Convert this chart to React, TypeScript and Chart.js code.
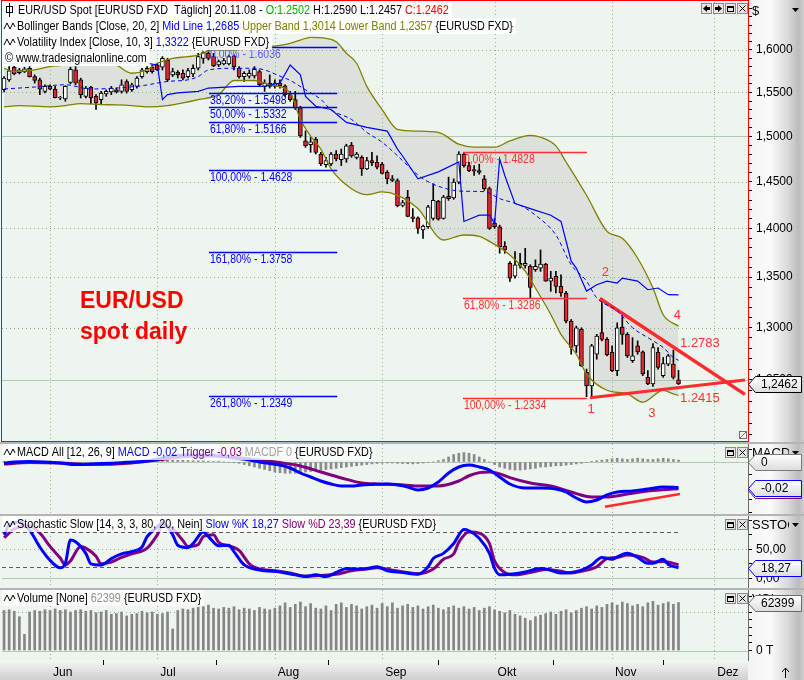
import React, { useEffect, useRef } from 'react';
import { Chart, registerables } from 'chart.js';

Chart.register(...registerables);

const FONT = '"Liberation Sans", Arial, Helvetica, sans-serif';
const AXIS_W = 56;
const X_MIN = -0.4;
const X_MAX = 145.6;
const PLOT_BG = '#eef4ee';
const GRID_DOT = '#9aa69a';
const GRID_SOLID = '#b2c8b2';
const RED = '#ff2a2a';
const CANDLE_RED = '#e3262b';
const BLUE = '#0000ff';
const PURPLE = '#800080';
const OLIVE = '#808000';
const TEXT_SX = 0.9;

// ---------- categories / ticks ----------
const monthTicks = [9, 30, 53, 74, 96, 119, 139];
const monthLabels = ['Jun', 'Jul', 'Aug', 'Sep', 'Okt', 'Nov', 'Dez'];
const priceMajorTicks = [1.25, 1.3, 1.35, 1.4, 1.45, 1.5, 1.55, 1.6];
const PRICE_MIN = 1.1951;
const PRICE_MAX = 1.6585;

// ---------- price series (daily OHLC, index = trading day) ----------
const opens = [
  1.5531, 1.5647, 1.5795, 1.5732, 1.5743, 1.5783, 1.5685, 1.5647, 1.5512, 1.557,
  1.5539, 1.5436, 1.5425, 1.5616, 1.5763, 1.5647, 1.5455, 1.5562, 1.5455, 1.5417,
  1.5482, 1.5505, 1.5531, 1.5512, 1.5627, 1.5531, 1.557, 1.5685, 1.5743, 1.5795,
  1.5822, 1.5795, 1.5881, 1.5705, 1.5736, 1.5724, 1.5685, 1.5716, 1.5783, 1.5901,
  1.596, 1.5921, 1.5822, 1.5834, 1.5834, 1.5929, 1.5783, 1.5685, 1.569, 1.5693,
  1.5743, 1.557, 1.5608, 1.557, 1.5608, 1.5578, 1.5474, 1.5417, 1.5322, 1.495,
  1.4905, 1.4968, 1.4802, 1.4685, 1.4692, 1.4802, 1.474, 1.4747, 1.4901, 1.4765,
  1.4765, 1.4638, 1.4729, 1.4711, 1.4692, 1.4602, 1.453, 1.4512, 1.4245, 1.433,
  1.4123, 1.4112, 1.3984, 1.4018, 1.4105, 1.4288, 1.4105, 1.4341, 1.4323, 1.4494,
  1.4802, 1.4674, 1.4631, 1.462, 1.453, 1.4423, 1.4053, 1.4018, 1.3818, 1.3641,
  1.351, 1.3641, 1.3618, 1.3608, 1.3574, 1.3591, 1.3631, 1.346, 1.3507, 1.3407,
  1.334, 1.3063, 1.2823, 1.2982, 1.2571, 1.2444, 1.2743, 1.295, 1.2886, 1.276,
  1.2587, 1.3005, 1.2934, 1.2681, 1.2823, 1.2766, 1.2525, 1.2463, 1.276, 1.2541,
  1.2649, 1.2649, 1.2502,
];
const highs = [
  1.5686, 1.5802, 1.5822, 1.5783, 1.5795, 1.5802, 1.5705, 1.5667, 1.5589, 1.5589,
  1.557, 1.5455, 1.5578, 1.5795, 1.5802, 1.5667, 1.557, 1.557, 1.5474, 1.5512,
  1.5531, 1.557, 1.5551, 1.5647, 1.5647, 1.5608, 1.5686, 1.5783, 1.5802, 1.5822,
  1.5842, 1.5921, 1.5901, 1.5783, 1.5755, 1.5763, 1.5783, 1.5822, 1.596, 1.598,
  1.6036, 1.596, 1.5881, 1.5901, 1.594, 1.594, 1.5802, 1.5743, 1.5763, 1.5802,
  1.5763, 1.5647, 1.5705, 1.5647, 1.5647, 1.5589, 1.5512, 1.5512, 1.5341, 1.506,
  1.4987, 1.4987, 1.4821, 1.4765, 1.4821, 1.4839, 1.4857, 1.4911, 1.4931, 1.4821,
  1.4783, 1.4765, 1.4821, 1.4783, 1.4711, 1.462, 1.4566, 1.453, 1.4298, 1.4405,
  1.421, 1.4123, 1.4035, 1.4245, 1.4476, 1.4298, 1.4351, 1.4548, 1.453, 1.4828,
  1.482, 1.4711, 1.4674, 1.469, 1.4566, 1.4441, 1.4105, 1.4035, 1.3863, 1.3658,
  1.376, 1.3743, 1.3794, 1.3625, 1.3675, 1.3777, 1.3641, 1.3558, 1.3558, 1.3524,
  1.3357, 1.3079, 1.3014, 1.2998, 1.2602, 1.2838, 1.2934, 1.3286, 1.2902, 1.2823,
  1.3046, 1.3127, 1.295, 1.2902, 1.2871, 1.2775, 1.2587, 1.2845, 1.2807, 1.2712,
  1.2743, 1.2783, 1.259,
];
const lows = [
  1.5505, 1.5627, 1.5705, 1.5716, 1.5732, 1.568, 1.5608, 1.5474, 1.5493, 1.5531,
  1.5436, 1.5417, 1.5398, 1.56, 1.5589, 1.5436, 1.5436, 1.5371, 1.5303, 1.536,
  1.5455, 1.5474, 1.5493, 1.5493, 1.5493, 1.5512, 1.5551, 1.5667, 1.5724, 1.5724,
  1.5755, 1.5763, 1.5627, 1.5685, 1.5667, 1.5647, 1.5667, 1.5685, 1.5763, 1.5842,
  1.5881, 1.5802, 1.5802, 1.5822, 1.5822, 1.5763, 1.5667, 1.5627, 1.5667, 1.5667,
  1.5578, 1.5512, 1.5551, 1.5551, 1.5551, 1.5455, 1.5398, 1.5303, 1.4987, 1.4876,
  1.4821, 1.4802, 1.4674, 1.4656, 1.4674, 1.4725, 1.4674, 1.4711, 1.4765, 1.4747,
  1.4566, 1.4631, 1.4674, 1.4638, 1.4584, 1.4476, 1.4498, 1.4228, 1.4228, 1.4123,
  1.407, 1.3949, 1.3897, 1.4001, 1.4088, 1.4088, 1.4098, 1.4298, 1.4309, 1.4476,
  1.4656, 1.4609, 1.4566, 1.458, 1.4405, 1.399, 1.4001, 1.3743, 1.3743, 1.3457,
  1.349, 1.3591, 1.3591, 1.3291, 1.3558, 1.3558, 1.3457, 1.3357, 1.334, 1.3307,
  1.3046, 1.2743, 1.276, 1.2625, 1.2345, 1.2334, 1.2696, 1.2871, 1.2728, 1.2578,
  1.2541, 1.2838, 1.2712, 1.2665, 1.2743, 1.2541, 1.2455, 1.244, 1.2602, 1.2525,
  1.2634, 1.2509, 1.2457,
];
const closes = [
  1.5667, 1.5752, 1.5716, 1.5763, 1.5775, 1.5685, 1.5639, 1.5539, 1.557, 1.5539,
  1.544, 1.5442, 1.557, 1.5771, 1.5608, 1.5474, 1.5551, 1.5436, 1.5379, 1.5493,
  1.5512, 1.5551, 1.5505, 1.5589, 1.5512, 1.5589, 1.5667, 1.5763, 1.5783, 1.5743,
  1.5763, 1.5901, 1.5647, 1.5743, 1.5705, 1.5667, 1.5755, 1.5783, 1.5921, 1.5968,
  1.5901, 1.5811, 1.5862, 1.5873, 1.5921, 1.5802, 1.5685, 1.5724, 1.5724, 1.5771,
  1.5589, 1.5608, 1.557, 1.5608, 1.5578, 1.5474, 1.5417, 1.5322, 1.5004, 1.4894,
  1.4938, 1.4821, 1.4692, 1.4729, 1.4802, 1.4747, 1.4802, 1.4894, 1.4783, 1.4802,
  1.4638, 1.4729, 1.4703, 1.4656, 1.459, 1.453, 1.4512, 1.4242, 1.4273, 1.4126,
  1.4105, 1.4001, 1.4025, 1.4228, 1.4298, 1.4098, 1.4334, 1.4316, 1.4494, 1.4802,
  1.4674, 1.462, 1.4614, 1.46, 1.4423, 1.4001, 1.4018, 1.3811, 1.3777, 1.349,
  1.3624, 1.3618, 1.3641, 1.3397, 1.3608, 1.3631, 1.346, 1.349, 1.3407, 1.334,
  1.3063, 1.2807, 1.2998, 1.2634, 1.2444, 1.2823, 1.2918, 1.2886, 1.2738, 1.2587,
  1.2998, 1.2934, 1.2728, 1.2728, 1.2766, 1.2556, 1.2463, 1.2807, 1.2618, 1.2655,
  1.2728, 1.2525, 1.2462,
];

// ---------- indicator lines, [trading-day index, value] ----------
const bbUpper = [
  [0, 1.5783], [2, 1.5745], [6, 1.5763], [9, 1.5802], [12, 1.5822], [14, 1.5861], [19, 1.5861],
  [21, 1.5854], [25, 1.5724], [28, 1.5763], [30, 1.5842], [33, 1.5901], [36, 1.592], [38, 1.594],
  [41, 1.6], [45, 1.6], [49, 1.602], [52, 1.604], [56, 1.608], [58, 1.612], [60, 1.6153],
  [63, 1.614], [65, 1.61], [67, 1.5961], [69, 1.5842], [71, 1.557], [74, 1.5303], [77, 1.5078],
  [81, 1.5058], [85, 1.5044], [89, 1.4911], [92, 1.4878], [96, 1.4878], [99, 1.4948], [103, 1.501],
  [105, 1.4989], [108, 1.4892], [110, 1.4714], [114, 1.4352], [118, 1.397], [121, 1.3897],
  [124, 1.3692], [127, 1.339], [129, 1.3125], [132, 1.3014],
];
const bbLower = [
  [0, 1.5334], [3, 1.5348], [9, 1.5334], [12, 1.5348], [15, 1.5371], [19, 1.536], [22, 1.5356],
  [25, 1.5348], [28, 1.5334], [32, 1.5348], [35, 1.5379], [38, 1.5417], [42, 1.5474], [45, 1.5639],
  [49, 1.5639], [52, 1.5589], [56, 1.5494], [58, 1.519], [60, 1.5003], [62, 1.4857], [64, 1.4638],
  [68, 1.4423], [71, 1.4359], [74, 1.4388], [77, 1.4352], [81, 1.421], [86, 1.388], [90, 1.3932],
  [93, 1.3918], [95, 1.3866], [99, 1.3726], [102, 1.3561], [104, 1.339], [107, 1.3128],
  [109, 1.2934], [112, 1.2743], [114, 1.2556], [118, 1.2404], [122, 1.237], [125, 1.2294],
  [129, 1.2404], [131, 1.237], [132, 1.2357],
];
const bbMid = [
  [0, 1.554], [6, 1.5563], [12, 1.5589], [17, 1.554], [22, 1.5551], [27, 1.5578], [30, 1.5609],
  [32, 1.5628], [36, 1.5647], [38, 1.5685], [40, 1.5763], [45, 1.5783], [49, 1.5783], [51, 1.5763],
  [54, 1.569], [56, 1.564], [59, 1.553], [62, 1.542], [64, 1.53], [68, 1.519], [71, 1.5044],
  [74, 1.4933], [77, 1.4783], [79, 1.4674], [82, 1.453], [88, 1.4405], [91, 1.4395], [94, 1.4391],
  [97, 1.4316], [101, 1.4245], [104, 1.414], [108, 1.3932], [111, 1.3624], [114, 1.346],
  [116, 1.3291], [120, 1.3164], [123, 1.2998], [126, 1.2902], [129, 1.2807], [131, 1.2712],
  [132, 1.2685],
];
const volIndex = [
  [0, 1.5842], [28, 1.5842], [30, 1.5822], [31, 1.5417], [32, 1.5474], [34, 1.5494], [38, 1.5512],
  [40, 1.5551], [46, 1.557], [51, 1.557], [54, 1.5609], [56, 1.5822], [58, 1.5705], [59, 1.5455],
  [61, 1.5341], [64, 1.5303], [67, 1.5156], [71, 1.51], [75, 1.5058], [77, 1.4857], [78, 1.478],
  [81, 1.453], [85, 1.4606], [89, 1.4714], [90, 1.4074], [93, 1.414], [95, 1.414], [96, 1.4053],
  [97, 1.4747], [98, 1.4566], [100, 1.4263], [103, 1.421], [107, 1.414], [109, 1.4074],
  [111, 1.3662], [112, 1.3591], [114, 1.336], [116, 1.3423], [118, 1.346], [120, 1.344],
  [121, 1.349], [124, 1.346], [126, 1.3373], [128, 1.339], [130, 1.3324], [132, 1.3322],
];

// Fibonacci retracement levels
const fibBlueLevels = [
  ['0,00%', 1.6036], ['38,20%', 1.5498], ['50,00%', 1.5332], ['61,80%', 1.5166],
  ['100,00%', 1.4628], ['161,80%', 1.3758], ['261,80%', 1.2349],
];
const fibBlueSpan = [40.1, 65.2];
const fibRedLevels = [['0,00%', 1.4828], ['61,80%', 1.3286], ['100,00%', 1.2334]];
const fibRedSpan = [89.8, 114.1];

// triangle trend lines
const trendUpper = [[116.6, 1.3286], [145.0, 1.2366]];
const trendLower = [[114.7, 1.2334], [145.0, 1.25]];
const waveLabels = [
  ['1', 114.9, 1.2224], ['2', 117.7, 1.3543], ['3', 126.8, 1.2187], ['4', 131.8, 1.3114],
];
const priceLabels = [['1.2783', 132.3, 1.2842], ['1.2415', 132.3, 1.2333]];

// ---------- MACD ----------
const macdLine = [
  [0, -0.001], [2, 0], [5, 0.0004], [8, 0], [11, -0.0008], [14, -0.002], [17, -0.0016], [22, -0.0008],
  [25, 0], [28, 0.0008], [30, 0.0024], [33, 0.0048], [36, 0.0056], [39, 0.0056], [42, 0.0048],
  [45, 0.0032], [48, 0.0016], [50, 0], [52, -0.0012], [54, -0.0024], [56, -0.0048], [58, -0.0088],
  [60, -0.012], [62, -0.0152], [64, -0.0176], [66, -0.0192], [68, -0.0192], [70, -0.0184],
  [72, -0.018], [75, -0.0176], [77, -0.0184], [79, -0.02], [81, -0.0224], [83, -0.0208], [85, -0.016],
  [87, -0.0088], [89, -0.004], [91, -0.0024], [93, -0.004], [95, -0.0064], [97, -0.012],
  [99, -0.0176], [102, -0.0208], [105, -0.0208], [108, -0.0216], [110, -0.024], [112, -0.0288],
  [114, -0.032], [116, -0.0304], [118, -0.0264], [120, -0.024], [123, -0.0232], [126, -0.0216],
  [129, -0.02], [132, -0.0204],
];
const triggerLine = [
  [0, -0.0016], [5, -0.0004], [11, -0.0008], [17, -0.002], [25, -0.0008], [30, 0.0016], [36, 0.0044],
  [42, 0.0048], [48, 0.0024], [54, -0.0004], [58, -0.0032], [62, -0.008], [66, -0.0128],
  [70, -0.0168], [73, -0.0176], [77, -0.018], [81, -0.0192], [85, -0.0192], [89, -0.0152],
  [91, -0.011], [93, -0.0085], [95, -0.008], [97, -0.0095], [99, -0.0125], [103, -0.0168],
  [107, -0.0192], [111, -0.024], [115, -0.028], [118, -0.028], [122, -0.0256], [126, -0.0232],
  [129, -0.0222], [132, -0.0214],
];
const macdHist = [
  0.0005, 0.0006, 0.0005, 0.0003, 0.0002, 0.0001, 0, -0.0003, -0.0005,
  -0.0008, -0.001, -0.0012, -0.0014, -0.0015, -0.0016, -0.0015, -0.0014, -0.0012, -0.001, -0.0009,
  -0.0008, -0.0007, -0.0005, -0.0003, -0.0001, 0.0002, 0.0005, 0.0008, 0.001, 0.0012,
  0.0014, 0.0015, 0.0016, 0.0016, 0.0015, 0.0014, 0.0012, 0.001, 0.0009, 0.0008, 0.0006, 0.0004,
  0.0002, 0, -0.0003, -0.0006,
  -0.001, -0.002, -0.003, -0.004, -0.005, -0.006, -0.007, -0.008, -0.0085, -0.009, -0.009, -0.009,
  -0.0085, -0.008, -0.0075, -0.007, -0.0065, -0.006, -0.0055, -0.005, -0.0045, -0.004, -0.0035,
  -0.003, -0.0025, -0.002,
  -0.0015, -0.0012, -0.001, -0.0008, -0.0008, -0.001, -0.0012, -0.0014, -0.0015, -0.0012, -0.0008,
  -0.0004, 0,
  0.001, 0.002, 0.004, 0.006, 0.007, 0.0075, 0.007, 0.006, 0.004, 0.002, 0,
  -0.002, -0.004, -0.005, -0.006, -0.0064, -0.0064, -0.006, -0.0055, -0.005, -0.004, -0.004,
  -0.0035, -0.003, -0.003, -0.0025, -0.002, -0.0015, -0.001, -0.0005,
  0.0005, 0.001, 0.0015, 0.002, 0.0025, 0.003, 0.0025, 0.002, 0.0025, 0.003, 0.0025, 0.002, 0.002,
  0.0025, 0.003, 0.0025, 0.002, 0.0015,
];
const macdTrend = [[117.6, -0.0358], [132.3, -0.0256]];

// ---------- Stochastic ----------
const stochK = [
  [0, 75], [1, 92], [3, 97], [5, 83], [7, 54], [9, 31], [11, 18], [12, 26], [13, 66], [14, 63],
  [16, 43], [17, 25], [19, 23], [21, 34], [23, 42], [25, 46], [27, 54], [28, 72], [30, 88], [31, 96],
  [33, 75], [34, 57], [36, 53], [37, 60], [39, 80], [40, 72], [42, 56], [44, 57], [45, 46], [47, 23],
  [49, 16], [51, 13], [54, 11], [57, 6], [59, 3], [61, 6], [63, 3], [65, 10], [67, 17], [69, 16],
  [71, 17], [73, 20], [75, 13], [78, 10], [81, 7], [83, 20], [84, 34], [86, 43], [88, 60], [90, 84],
  [91, 82], [93, 69], [95, 43], [96, 17], [97, 6], [99, 7], [102, 11], [105, 17], [107, 14], [109, 9],
  [111, 10], [113, 14], [115, 23], [117, 36], [119, 33], [120, 37], [122, 43], [124, 36], [126, 26],
  [127, 26], [129, 33], [130, 24], [132, 18.27],
];
const stochD = [
  [0, 70], [2, 85], [5, 90], [7, 78], [9, 55], [11, 35], [12, 23], [13, 30], [15, 55], [16, 52],
  [18, 38], [19, 25], [21, 28], [23, 36], [25, 42], [28, 52], [30, 75], [31, 90], [33, 85], [35, 65],
  [36, 55], [38, 58], [39, 72], [41, 75], [42, 62], [44, 56], [46, 48], [48, 25], [50, 16], [53, 13],
  [56, 9], [59, 4], [62, 5], [65, 7], [68, 13], [71, 16], [73, 18], [76, 14], [79, 10], [81, 8],
  [84, 16], [86, 33], [88, 42], [89, 62], [91, 80], [93, 78], [95, 60], [96, 30], [98, 10], [100, 6],
  [103, 10], [106, 15], [109, 12], [111, 9], [113, 12], [116, 20], [118, 34], [120, 36], [122, 40],
  [125, 36], [127, 28], [129, 29], [132, 23.39],
];

// ---------- Volume ----------
const volumes = [
  52000, 53000, 51000, 44000, 21000, 50000, 52000, 51000, 53000, 52000,
  54000, 52000, 53000, 50000, 52000, 53000, 51000, 52000, 49000, 50000,
  52000, 47000, 48000, 50000, 45000, 47000, 48000, 51000, 49000, 50000,
  47000, 48000, 50000, 28000, 52000, 54000, 53000, 55000, 56000, 57000,
  59000, 55000, 54000, 56000, 55000, 57000, 53000, 55000, 54000, 52000,
  56000, 54000, 53000,
  55000, 58000, 62000, 56000, 60000, 63000, 57000, 61000, 55000, 54000,
  58000, 52000, 60000, 62000, 56000, 60000, 58000, 54000, 57000, 59000,
  55000, 61000, 57000,
  62000, 55000, 58000, 60000, 56000, 58000, 54000, 57000, 59000, 55000,
  53000, 56000, 58000, 55000, 57000, 54000, 56000, 52000, 55000, 57000,
  53000, 51000,
  49000, 52000, 47000, 45000, 42000, 39000, 44000, 46000, 48000, 50000,
  47000, 51000, 53000, 49000, 52000, 55000, 57000, 54000,
  58000, 56000, 60000, 62000, 59000, 63000, 61000, 58000, 60000, 57000,
  62000, 64000, 59000, 61000, 63000, 60000, 62399,
];

const LAST = closes.length - 1;
const pts = (arr: any[]) => arr.map((p: any) => ({ x: p[0], y: p[1] }));
const comma = (v: number, d: number) => v.toFixed(d).replace('.', ',');

// ---------- drawing helpers ----------
function textX(ctx: any, text: string, x: number, y: number, sx: number) {
  ctx.save();
  ctx.translate(x, y);
  ctx.scale(sx, 1);
  ctx.fillText(text, 0, 0);
  ctx.restore();
  return ctx.measureText(text).width * sx;
}
function hline(ctx: any, x1: number, x2: number, y: number, color: string, dash: number[], w = 1) {
  ctx.save();
  ctx.strokeStyle = color;
  ctx.lineWidth = w;
  ctx.setLineDash(dash);
  ctx.beginPath();
  const yy = Math.round(y) + 0.5;
  ctx.moveTo(x1, yy);
  ctx.lineTo(x2, yy);
  ctx.stroke();
  ctx.restore();
}
function vline(ctx: any, x: number, y1: number, y2: number, color: string, dash: number[]) {
  ctx.save();
  ctx.strokeStyle = color;
  ctx.lineWidth = 1;
  ctx.setLineDash(dash);
  ctx.beginPath();
  const xx = Math.round(x) + 0.5;
  ctx.moveTo(xx, y1);
  ctx.lineTo(xx, y2);
  ctx.stroke();
  ctx.restore();
}
function axisStrip(ctx: any, x0: number, y0: number, x1: number, y1: number) {
  const g = ctx.createLinearGradient(x0, 0, x1, 0);
  g.addColorStop(0, '#f3f3f3');
  g.addColorStop(0.4, '#fafafa');
  g.addColorStop(0.72, '#d8d8d8');
  g.addColorStop(0.9, '#bcbcbc');
  g.addColorStop(1, '#cdcdcd');
  ctx.fillStyle = g;
  ctx.fillRect(x0, y0, x1 - x0, y1 - y0);
}
function monthGrid(chart: any) {
  const { ctx, chartArea: a, scales } = chart;
  monthTicks.forEach((m) => {
    const px = scales.x.getPixelForValue(m);
    if (px > a.left && px < a.right) vline(ctx, px, a.top, a.bottom, GRID_DOT, [1, 3]);
  });
}
function waveIcon(ctx: any, x: number, y: number) {
  ctx.save();
  ctx.strokeStyle = '#000';
  ctx.lineWidth = 1;
  ctx.beginPath();
  ctx.moveTo(x, y + 3);
  ctx.lineTo(x + 3, y - 3);
  ctx.lineTo(x + 6, y + 3);
  ctx.lineTo(x + 9, y - 3);
  ctx.lineTo(x + 11, y + 1);
  ctx.stroke();
  ctx.restore();
}
function richRow(ctx: any, x: number, yc: number, parts: any[], size = 12, alpha = 0.92) {
  ctx.save();
  ctx.font = `${size}px ${FONT}`;
  let w = 0;
  parts.forEach((p: any) => (w += ctx.measureText(p[0]).width * TEXT_SX));
  ctx.fillStyle = `rgba(255,255,255,${alpha})`;
  ctx.fillRect(2, Math.round(yc - 8), x + w + 3 - 2, 16);
  ctx.textBaseline = 'middle';
  let cx = x;
  parts.forEach((p: any) => {
    ctx.fillStyle = p[1];
    cx += textX(ctx, p[0], cx, yc + 0.5, TEXT_SX);
  });
  ctx.restore();
}
function buttons(ctx: any, xs: number[], y: number, kinds: string[]) {
  ctx.save();
  xs.forEach((x, i) => {
    ctx.fillStyle = '#e4e4e4';
    ctx.fillRect(x, y, 11, 11);
    ctx.strokeStyle = '#8a8a8a';
    ctx.lineWidth = 1;
    ctx.strokeRect(x + 0.5, y + 0.5, 10, 10);
    ctx.fillStyle = '#000';
    ctx.strokeStyle = '#000';
    const k = kinds[i];
    ctx.beginPath();
    if (k === 'L') {
      ctx.moveTo(x + 2, y + 5.5); ctx.lineTo(x + 6, y + 2); ctx.lineTo(x + 6, y + 9); ctx.closePath(); ctx.fill();
      ctx.fillRect(x + 6, y + 4, 3, 3);
    } else if (k === 'R') {
      ctx.moveTo(x + 9, y + 5.5); ctx.lineTo(x + 5, y + 2); ctx.lineTo(x + 5, y + 9); ctx.closePath(); ctx.fill();
      ctx.fillRect(x + 2, y + 4, 3, 3);
    } else if (k === 'W') {
      ctx.strokeRect(x + 2.5, y + 3.5, 6, 5);
      ctx.fillRect(x + 2, y + 3, 7, 2);
    } else {
      ctx.moveTo(x + 2.5, y + 2.5); ctx.lineTo(x + 8.5, y + 8.5);
      ctx.moveTo(x + 8.5, y + 2.5); ctx.lineTo(x + 2.5, y + 8.5);
      ctx.stroke();
    }
  });
  ctx.restore();
}
function valueBox(ctx: any, x0: number, yc: number, text: string, border: string, shadow?: string) {
  const h = 16;
  const top = Math.round(yc - h / 2) + 0.5;
  const bot = top + h;
  const tip = 7;
  const x1 = 801.5;
  ctx.save();
  const path = () => {
    ctx.beginPath();
    ctx.moveTo(x0 + 0.5, top + h / 2);
    ctx.lineTo(x0 + tip + 0.5, top);
    ctx.lineTo(x1, top);
    ctx.lineTo(x1, bot);
    ctx.lineTo(x0 + tip + 0.5, bot);
    ctx.closePath();
  };
  if (shadow) {
    ctx.save();
    ctx.translate(0, 2);
    path();
    ctx.strokeStyle = shadow;
    ctx.lineWidth = 1;
    ctx.stroke();
    ctx.restore();
  }
  path();
  const g = ctx.createLinearGradient(0, top, 0, bot);
  g.addColorStop(0, '#ffffff');
  g.addColorStop(1, '#dcdcdc');
  ctx.fillStyle = g;
  ctx.fill();
  ctx.strokeStyle = border;
  ctx.lineWidth = 1;
  ctx.stroke();
  ctx.fillStyle = '#000';
  ctx.font = `12px ${FONT}`;
  ctx.textBaseline = 'middle';
  ctx.fillText(text, x0 + 13, top + h / 2 + 0.5);
  ctx.restore();
}
function dropArrow(ctx: any, x: number, y: number) {
  ctx.save();
  ctx.fillStyle = '#000';
  ctx.beginPath();
  ctx.moveTo(x, y);
  ctx.lineTo(x + 7, y);
  ctx.lineTo(x + 3.5, y + 4);
  ctx.closePath();
  ctx.fill();
  ctx.restore();
}
function axisTitle(ctx: any, text: string, y: number, arrow = true) {
  ctx.save();
  ctx.font = `13px ${FONT}`;
  ctx.fillStyle = '#000';
  ctx.textBaseline = 'middle';
  ctx.beginPath();
  ctx.rect(749, y - 9, 40, 18);
  ctx.clip();
  ctx.fillText(text, 752, y);
  ctx.restore();
  if (arrow) dropArrow(ctx, 792, y - 2);
}

const xScale = (display: boolean) => ({
  type: 'linear',
  min: X_MIN,
  max: X_MAX,
  display,
  offset: false,
  grid: { display: false },
});

const subY = (min: number, max: number, tickVals: number[], label: (v: number) => string) => ({
  type: 'linear',
  position: 'right',
  min,
  max,
  afterBuildTicks: (s: any) => {
    s.ticks = tickVals.map((v) => ({ value: v }));
  },
  afterFit: (s: any) => {
    s.width = AXIS_W;
    s.paddingTop = 0;
    s.paddingBottom = 0;
  },
  grid: { drawOnChartArea: false, drawTicks: true, tickLength: 4, tickColor: '#000', tickWidth: 1 },
  border: { display: true, color: '#6a6a6a', width: 1 },
  ticks: {
    autoSkip: false,
    padding: 4,
    color: '#000',
    font: { family: FONT, size: 12 },
    callback: (v: any) => label(Number(v)),
  },
});

const baseOptions = (scales: any, padTop: number, padBottom: number) => ({
  animation: false,
  responsive: false,
  maintainAspectRatio: false,
  events: [],
  layout: { padding: { left: 2, right: 0, top: padTop, bottom: padBottom } },
  plugins: {
    legend: { display: false },
    tooltip: { enabled: false },
    filler: { drawTime: 'beforeDatasetsDraw' },
  },
  scales,
});

const lineDs = (data: any[], color: string, width: number, extra: any = {}) => ({
  type: 'line',
  data: pts(data),
  borderColor: color,
  borderWidth: width,
  pointRadius: 0,
  fill: false,
  tension: 0.4,
  cubicInterpolationMode: 'monotone',
  order: 0,
  ...extra,
});

// ---------- main price chart ----------
function mainConfig(): any {
  const minorTicks: number[] = [];
  for (let v = 1.2; v <= 1.6501; v += 0.01) minorTicks.push(Math.round(v * 100) / 100);
  const decor = {
    id: 'mainDecor',
    beforeDraw(chart: any) {
      const { ctx, chartArea: a, width, height } = chart;
      ctx.save();
      ctx.fillStyle = PLOT_BG;
      ctx.fillRect(0, 0, a.right, height);
      axisStrip(ctx, a.right, 0, width, height);
      ctx.restore();
    },
    beforeDatasetsDraw(chart: any) {
      const { ctx, chartArea: a, scales } = chart;
      monthGrid(chart);
      priceMajorTicks.forEach((v) => {
        const py = scales.y.getPixelForValue(v);
        const solid = Math.abs(v - 1.5) < 1e-6 || Math.abs(v - 1.25) < 1e-6;
        hline(ctx, a.left, a.right, py, solid ? GRID_SOLID : GRID_DOT, solid ? [] : [1, 3]);
      });
    },
    afterDatasetsDraw(chart: any) {
      const { ctx, scales } = chart;
      const xs = scales.x;
      const ys = scales.y;
      ctx.save();
      // Fibonacci levels
      const fib = (levels: any[], span: number[], color: string, txtColor: string) => {
        const x1 = xs.getPixelForValue(span[0]);
        const x2 = xs.getPixelForValue(span[1]);
        levels.forEach((l: any, i: number) => {
          const py = ys.getPixelForValue(l[1]);
          hline(ctx, x1, x2, py, color, [], 1.3);
          ctx.font = `12px ${FONT}`;
          ctx.textBaseline = 'top';
          ctx.fillStyle = i === 0 && color === BLUE ? '#5a5aff' : txtColor;
          textX(ctx, `${l[0]} - ${l[1].toFixed(4)}`, x1 + 1, Math.round(py) + 2, 0.87);
        });
      };
      fib(fibBlueLevels, fibBlueSpan, BLUE, BLUE);
      fib(fibRedLevels, fibRedSpan, '#ff3030', '#ff3030');
      // wave count & prices
      ctx.font = `13px ${FONT}`;
      ctx.fillStyle = '#ff3030';
      ctx.textBaseline = 'middle';
      ctx.textAlign = 'center';
      waveLabels.forEach((w: any) => ctx.fillText(w[0], xs.getPixelForValue(w[1]), ys.getPixelForValue(w[2])));
      ctx.textAlign = 'left';
      priceLabels.forEach((w: any) => ctx.fillText(w[0], xs.getPixelForValue(w[1]), ys.getPixelForValue(w[2])));
      // title text
      ctx.font = `bold 23px ${FONT}`;
      ctx.fillStyle = '#ff0000';
      ctx.textBaseline = 'alphabetic';
      ctx.fillText('EUR/USD', 80, 308);
      ctx.fillText('spot daily', 80, 339);
      ctx.restore();
    },
    afterDraw(chart: any) {
      const { ctx, chartArea: a, scales } = chart;
      // legend rows
      richRow(ctx, 18, 10, [
        ['EUR/USD Spot [EURUSD FXD  Täglich] 20.11.08 - ', '#000'],
        ['O:1.2502', '#00b000'],
        [' H:1.2590 L:1.2457 ', '#000'],
        ['C:1.2462', '#ff0000'],
      ]);
      richRow(ctx, 17, 26, [
        ['Bollinger Bands [Close, 20, 2] ', '#000'],
        ['Mid Line 1,2685', BLUE],
        [' Upper Band 1,3014 Lower Band 1,2357', OLIVE],
        [' {EURUSD FXD}', '#000'],
      ]);
      richRow(ctx, 17, 42, [
        ['Volatility Index [Close, 10, 3] ', '#000'],
        ['1,3322', BLUE],
        [' {EURUSD FXD}', '#000'],
      ]);
      richRow(ctx, 5, 58, [['© www.tradesignalonline.com', '#000']]);
      // candle icon + wave icons
      ctx.save();
      ctx.strokeStyle = '#000';
      ctx.lineWidth = 1;
      ctx.beginPath();
      ctx.moveTo(9.5, 3);
      ctx.lineTo(9.5, 17);
      ctx.stroke();
      ctx.strokeRect(6.5, 6.5, 6, 6);
      ctx.restore();
      waveIcon(ctx, 4, 26);
      waveIcon(ctx, 4, 42);
      buttons(ctx, [701, 713, 725, 737], 3, ['L', 'R', 'W', 'X']);
      // resize grip
      ctx.save();
      ctx.fillStyle = '#f4f4f4';
      ctx.fillRect(739, 431, 8, 8);
      ctx.strokeStyle = '#707070';
      ctx.strokeRect(739.5, 431.5, 7, 7);
      ctx.beginPath();
      ctx.moveTo(740, 438);
      ctx.lineTo(746, 432);
      ctx.stroke();
      ctx.restore();
      // red frame
      ctx.save();
      ctx.strokeStyle = '#ff0000';
      ctx.lineWidth = 1;
      ctx.strokeRect(1.5, 0.5, a.right - 1, a.bottom + 1);
      ctx.restore();
      // axis header
      ctx.save();
      ctx.font = `13px ${FONT}`;
      ctx.fillStyle = '#000';
      ctx.textBaseline = 'middle';
      ctx.fillText('$', 752, 11);
      ctx.restore();
      dropArrow(ctx, 792, 8);
      valueBox(ctx, a.right, scales.y.getPixelForValue(closes[LAST]), comma(closes[LAST], 4), '#000');
    },
  };

  return {
    type: 'bar',
    data: {
      datasets: [
        lineDs(bbUpper, OLIVE, 1.3, { fill: '+1', backgroundColor: 'rgba(110,115,110,0.14)', order: 1 }),
        lineDs(bbLower, OLIVE, 1.3, { order: 1 }),
        {
          type: 'bar',
          data: lows.map((l, i) => ({ x: i, y: [l, highs[i]] })),
          backgroundColor: '#000',
          barThickness: 1,
          grouped: false,
          order: 4,
        },
        {
          type: 'bar',
          data: opens.map((o, i) => ({ x: i, y: [Math.min(o, closes[i]), Math.max(o, closes[i])] })),
          backgroundColor: opens.map((o, i) => (closes[i] >= o ? '#ffffff' : CANDLE_RED)),
          borderColor: '#000',
          borderWidth: 1,
          borderSkipped: false,
          barThickness: 4,
          grouped: false,
          order: 3,
        },
        lineDs(bbMid, BLUE, 1, { borderDash: [4, 3], order: 0 }),
        lineDs(volIndex, BLUE, 1.2, { tension: 0, cubicInterpolationMode: 'default', order: 0 }),
        lineDs(trendUpper, RED, 3.5, { tension: 0, cubicInterpolationMode: 'default', order: 0 }),
        lineDs(trendLower, RED, 3, { tension: 0, cubicInterpolationMode: 'default', order: 0 }),
      ],
    },
    options: baseOptions(
      {
        x: xScale(false),
        y: {
          type: 'logarithmic',
          position: 'right',
          min: PRICE_MIN,
          max: PRICE_MAX,
          afterBuildTicks: (s: any) => {
            s.ticks = minorTicks.map((v) => ({ value: v }));
          },
          afterFit: (s: any) => {
            s.width = AXIS_W;
            s.paddingTop = 0;
            s.paddingBottom = 0;
          },
          grid: { drawOnChartArea: false, drawTicks: true, tickLength: 4, tickColor: '#000', tickWidth: 1 },
          border: { display: false },
          ticks: {
            autoSkip: false,
            padding: 4,
            color: '#000',
            font: { family: FONT, size: 12 },
            callback: (v: any) => {
              const n = Math.round(Number(v) * 100) / 100;
              return priceMajorTicks.some((m) => Math.abs(m - n) < 1e-6) ? comma(n, 4) : '';
            },
          },
        },
      },
      2,
      2,
    ),
    plugins: [decor],
  };
}

// ---------- sub panels ----------
function subDecor(id: string, header: any[], hLines: any[], extra: (chart: any) => void): any {
  return {
    id,
    beforeDraw(chart: any) {
      const { ctx, chartArea: a, width, height } = chart;
      ctx.save();
      ctx.fillStyle = PLOT_BG;
      ctx.fillRect(0, 0, a.right, a.bottom);
      axisStrip(ctx, a.right, 0, width, height);
      ctx.restore();
    },
    beforeDatasetsDraw(chart: any) {
      const { ctx, chartArea: a, scales } = chart;
      monthGrid(chart);
      hLines.forEach((h: any) => {
        const x2 = h[3] !== undefined ? scales.x.getPixelForValue(h[3]) : a.right;
        hline(ctx, a.left, x2, scales.y.getPixelForValue(h[0]), h[1], h[2]);
      });
    },
    afterDraw(chart: any) {
      const { ctx, chartArea: a } = chart;
      richRow(ctx, 17, a.top + 8, header, 12, 0.78);
      waveIcon(ctx, 4, a.top + 8);
      buttons(ctx, [725, 737], a.top + 3, ['W', 'X']);
      extra(chart);
    },
  };
}

function macdConfig(): any {
  const decor = subDecor(
    'macdDecor',
    [
      ['MACD All [12, 26, 9] ', '#000'],
      ['MACD -0,02', BLUE],
      [' Trigger -0,03', PURPLE],
      [' MACDF 0', '#a0a0a0'],
      [' {EURUSD FXD}', '#000'],
    ],
    [[0, GRID_SOLID, []]],
    (chart: any) => {
      const { ctx, chartArea: a, scales } = chart;
      axisTitle(ctx, 'MACDA', a.top + 9);
      valueBox(ctx, a.right, scales.y.getPixelForValue(0), '0', '#7a7a7a');
      const last = macdLine[macdLine.length - 1][1];
      valueBox(ctx, a.right, scales.y.getPixelForValue(last), comma(last, 2), BLUE, PURPLE);
    },
  );
  return {
    type: 'bar',
    data: {
      datasets: [
        {
          type: 'bar',
          data: macdHist.map((v, i) => ({ x: i, y: v })),
          backgroundColor: '#8a8a8a',
          barThickness: 2,
          grouped: false,
          order: 3,
        },
        lineDs(triggerLine, PURPLE, 3, { order: 1 }),
        lineDs(macdLine, BLUE, 3, { order: 0 }),
        lineDs(macdTrend, RED, 2.5, { tension: 0, cubicInterpolationMode: 'default', order: 0 }),
      ],
    },
    options: baseOptions(
      { x: xScale(false), y: subY(-0.0416, 0.0144, [0.01, 0, -0.01, -0.02, -0.03, -0.04], () => '') },
      0,
      0,
    ),
    plugins: [decor],
  };
}

function stochConfig(): any {
  const decor = subDecor(
    'stochDecor',
    [
      ['Stochastic Slow [14, 3, 3, 80, 20, Nein] ', '#000'],
      ['Slow %K 18,27', BLUE],
      [' Slow %D 23,39', PURPLE],
      [' {EURUSD FXD}', '#000'],
    ],
    [
      [0, GRID_SOLID, []],
      [50, GRID_DOT, [1, 3]],
      [80, '#5a5a5a', [4, 3], LAST],
      [20, '#5a5a5a', [4, 3], LAST],
    ],
    (chart: any) => {
      const { ctx, chartArea: a, scales } = chart;
      axisTitle(ctx, 'SSTOC', a.top + 9);
      const last = stochK[stochK.length - 1][1];
      valueBox(ctx, a.right, scales.y.getPixelForValue(last), comma(last, 2), BLUE);
    },
  );
  return {
    type: 'line',
    data: {
      datasets: [lineDs(stochD, PURPLE, 3, { order: 1 }), lineDs(stochK, BLUE, 3, { order: 0 })],
    },
    options: baseOptions(
      {
        x: xScale(false),
        y: subY(-16.7, 107.4, [0, 25, 50, 75, 100], (v) => (v === 50 ? '50,00' : v === 0 ? '0,00' : '')),
      },
      0,
      0,
    ),
    plugins: [decor],
  };
}

function volumeConfig(): any {
  const decor = subDecor(
    'volDecor',
    [
      ['Volume [None] ', '#000'],
      ['62399', '#909090'],
      [' {EURUSD FXD}', '#000'],
    ],
    [
      [0, GRID_SOLID, []],
      [50000, GRID_DOT, [1, 3]],
    ],
    (chart: any) => {
      const { ctx, chartArea: a, scales, height } = chart;
      axisTitle(ctx, 'VOL', a.top + 9, false);
      valueBox(ctx, a.right, scales.y.getPixelForValue(volumes[LAST]), String(volumes[LAST]), '#6a6a6a');
      ctx.save();
      ctx.strokeStyle = '#000';
      ctx.beginPath();
      ctx.moveTo(785.5, height - 2);
      ctx.lineTo(785.5, height - 12);
      ctx.moveTo(782, height - 8);
      ctx.lineTo(785.5, height - 12);
      ctx.lineTo(789, height - 8);
      ctx.stroke();
      ctx.restore();
    },
  );
  // time-axis strip background
  const strip = {
    id: 'timeStrip',
    beforeDraw(chart: any) {
      const { ctx, chartArea: a, width, height } = chart;
      const g = ctx.createLinearGradient(0, a.bottom, 0, height);
      g.addColorStop(0, '#f6f6f6');
      g.addColorStop(1, '#cfcfcf');
      ctx.save();
      ctx.fillStyle = g;
      ctx.fillRect(0, a.bottom, width, height - a.bottom);
      ctx.restore();
    },
  };
  return {
    type: 'bar',
    data: {
      datasets: [
        {
          type: 'bar',
          data: volumes.map((v, i) => ({ x: i, y: v })),
          backgroundColor: '#858585',
          barThickness: 2,
          grouped: false,
        },
      ],
    },
    options: baseOptions(
      {
        x: {
          type: 'linear',
          min: X_MIN,
          max: X_MAX,
          offset: false,
          position: 'bottom',
          afterBuildTicks: (s: any) => {
            s.ticks = monthTicks.map((v) => ({ value: v }));
          },
          afterFit: (s: any) => {
            s.height = 20;
            s.paddingLeft = 0;
            s.paddingRight = 0;
          },
          grid: { drawOnChartArea: false, drawTicks: true, tickLength: 5, tickColor: '#000' },
          border: { display: false },
          ticks: {
            autoSkip: false,
            maxRotation: 0,
            align: 'start',
            labelOffset: 3,
            padding: 0,
            color: '#000',
            font: { family: FONT, size: 12 },
            callback: (_v: any, i: number) => monthLabels[i],
          },
        },
        y: subY(-12350, 78650, [0, 10000, 20000, 30000, 40000, 50000, 60000, 70000], (v) => (v === 0 ? '0 T' : '')),
      },
      0,
      0,
    ),
    plugins: [strip, decor],
  };
}

export default function App() {
  const mainRef = useRef<HTMLCanvasElement>(null);
  const macdRef = useRef<HTMLCanvasElement>(null);
  const stochRef = useRef<HTMLCanvasElement>(null);
  const volRef = useRef<HTMLCanvasElement>(null);

  useEffect(() => {
    const charts: any[] = [];
    if (mainRef.current) charts.push(new Chart(mainRef.current, mainConfig()));
    if (macdRef.current) charts.push(new Chart(macdRef.current, macdConfig()));
    if (stochRef.current) charts.push(new Chart(stochRef.current, stochConfig()));
    if (volRef.current) charts.push(new Chart(volRef.current, volumeConfig()));
    return () => charts.forEach((c) => c.destroy());
  }, []);

  const cv = (top: number, h: number): any => ({
    position: 'absolute',
    left: 0,
    top,
    width: 804,
    height: h,
    display: 'block',
  });

  return (
    <div
      style={{
        position: 'absolute',
        left: 0,
        top: 0,
        width: 804,
        height: 680,
        background: '#b4b4b4',
        overflow: 'hidden',
      }}
    >
      <canvas ref={mainRef} width={804} height={442} style={cv(0, 442)} />
      <canvas ref={macdRef} width={804} height={70} style={cv(444, 70)} />
      <canvas ref={stochRef} width={804} height={72} style={cv(516, 72)} />
      <canvas ref={volRef} width={804} height={90} style={cv(590, 90)} />
    </div>
  );
}
